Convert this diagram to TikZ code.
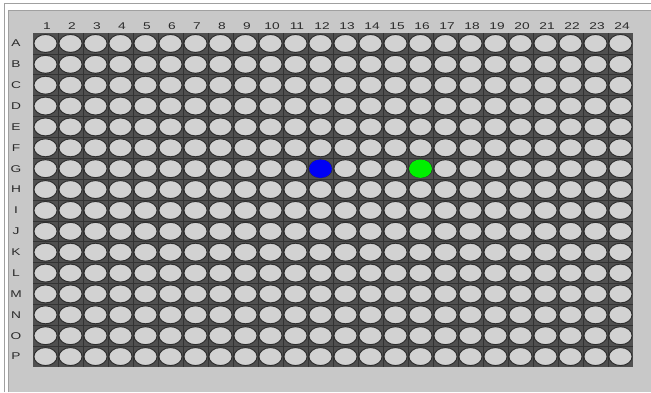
\documentclass[tikz,border=0pt]{standalone}
\usepackage{fontspec}
\setmainfont{Liberation Sans}
\definecolor{bg}{HTML}{C8C8C8}
\definecolor{frameline}{HTML}{A0A0A0}
\definecolor{plate}{HTML}{505050}
\definecolor{wellfill}{HTML}{D2D2D2}
\definecolor{welledge}{HTML}{2E2E2E}
\definecolor{labeltext}{HTML}{2A2A2A}
\definecolor{blueWell}{HTML}{0000F5}
\definecolor{greenWell}{HTML}{00F000}
\tikzset{
  lbl/.style={font=\fontsize{9.8}{10}\selectfont, text=labeltext, inner sep=0pt, xscale=1.4},
  well/.style={fill=wellfill, draw=welledge, line width=1pt},
}
\begin{document}
\begin{tikzpicture}[x=1pt,y=-1pt]
\useasboundingbox (0,0) rectangle (651,392);
\fill[white] (0,0) rectangle (651,392);
\fill[bg] (9,11) rectangle (651,392);
\draw[frameline, line width=1pt] (4.5,392) -- (4.5,3.5) -- (651,3.5);
\draw[frameline, line width=1pt] (8.5,392) -- (8.5,10.5) -- (651,10.5);
% plate
\fill[plate] (33,33) rectangle (633,367);
\foreach \c in {1,...,23} {
  \draw[black!80, line width=0.7pt] ({33+25*\c},33) -- ({33+25*\c},367);
}
\foreach \r in {1,...,15} {
  \draw[black!80, line width=0.7pt] (33,{33+20.875*\r}) -- (633,{33+20.875*\r});
}
\foreach \r in {1,...,16} {
  \foreach \c in {1,...,24} {
    \path[well] ({33+25*(\c-0.5)},{33+20.875*(\r-0.5)}) ellipse (11.6 and 9);
  }
}
% colored wells G12 and G16
\fill[blueWell] ({33+25*11.5},{33+20.875*6.5}) ellipse (11.4 and 9.2);
\fill[greenWell] ({33+25*15.5},{33+20.875*6.5}) ellipse (11.4 and 9.2);
% column labels
\foreach \c in {1,...,24} {
  \node[lbl] (col\c) at ({33+25*(\c-0.5)+1.5},26) {\c};
}
% row labels
\foreach \l [count=\r] in {A,B,C,D,E,F,G,H,I,J,K,L,M,N,O,P} {
  \node[lbl] (row\l) at (16,{33+20.875*(\r-0.5)}) {\l};
}
\end{tikzpicture}
\end{document}
